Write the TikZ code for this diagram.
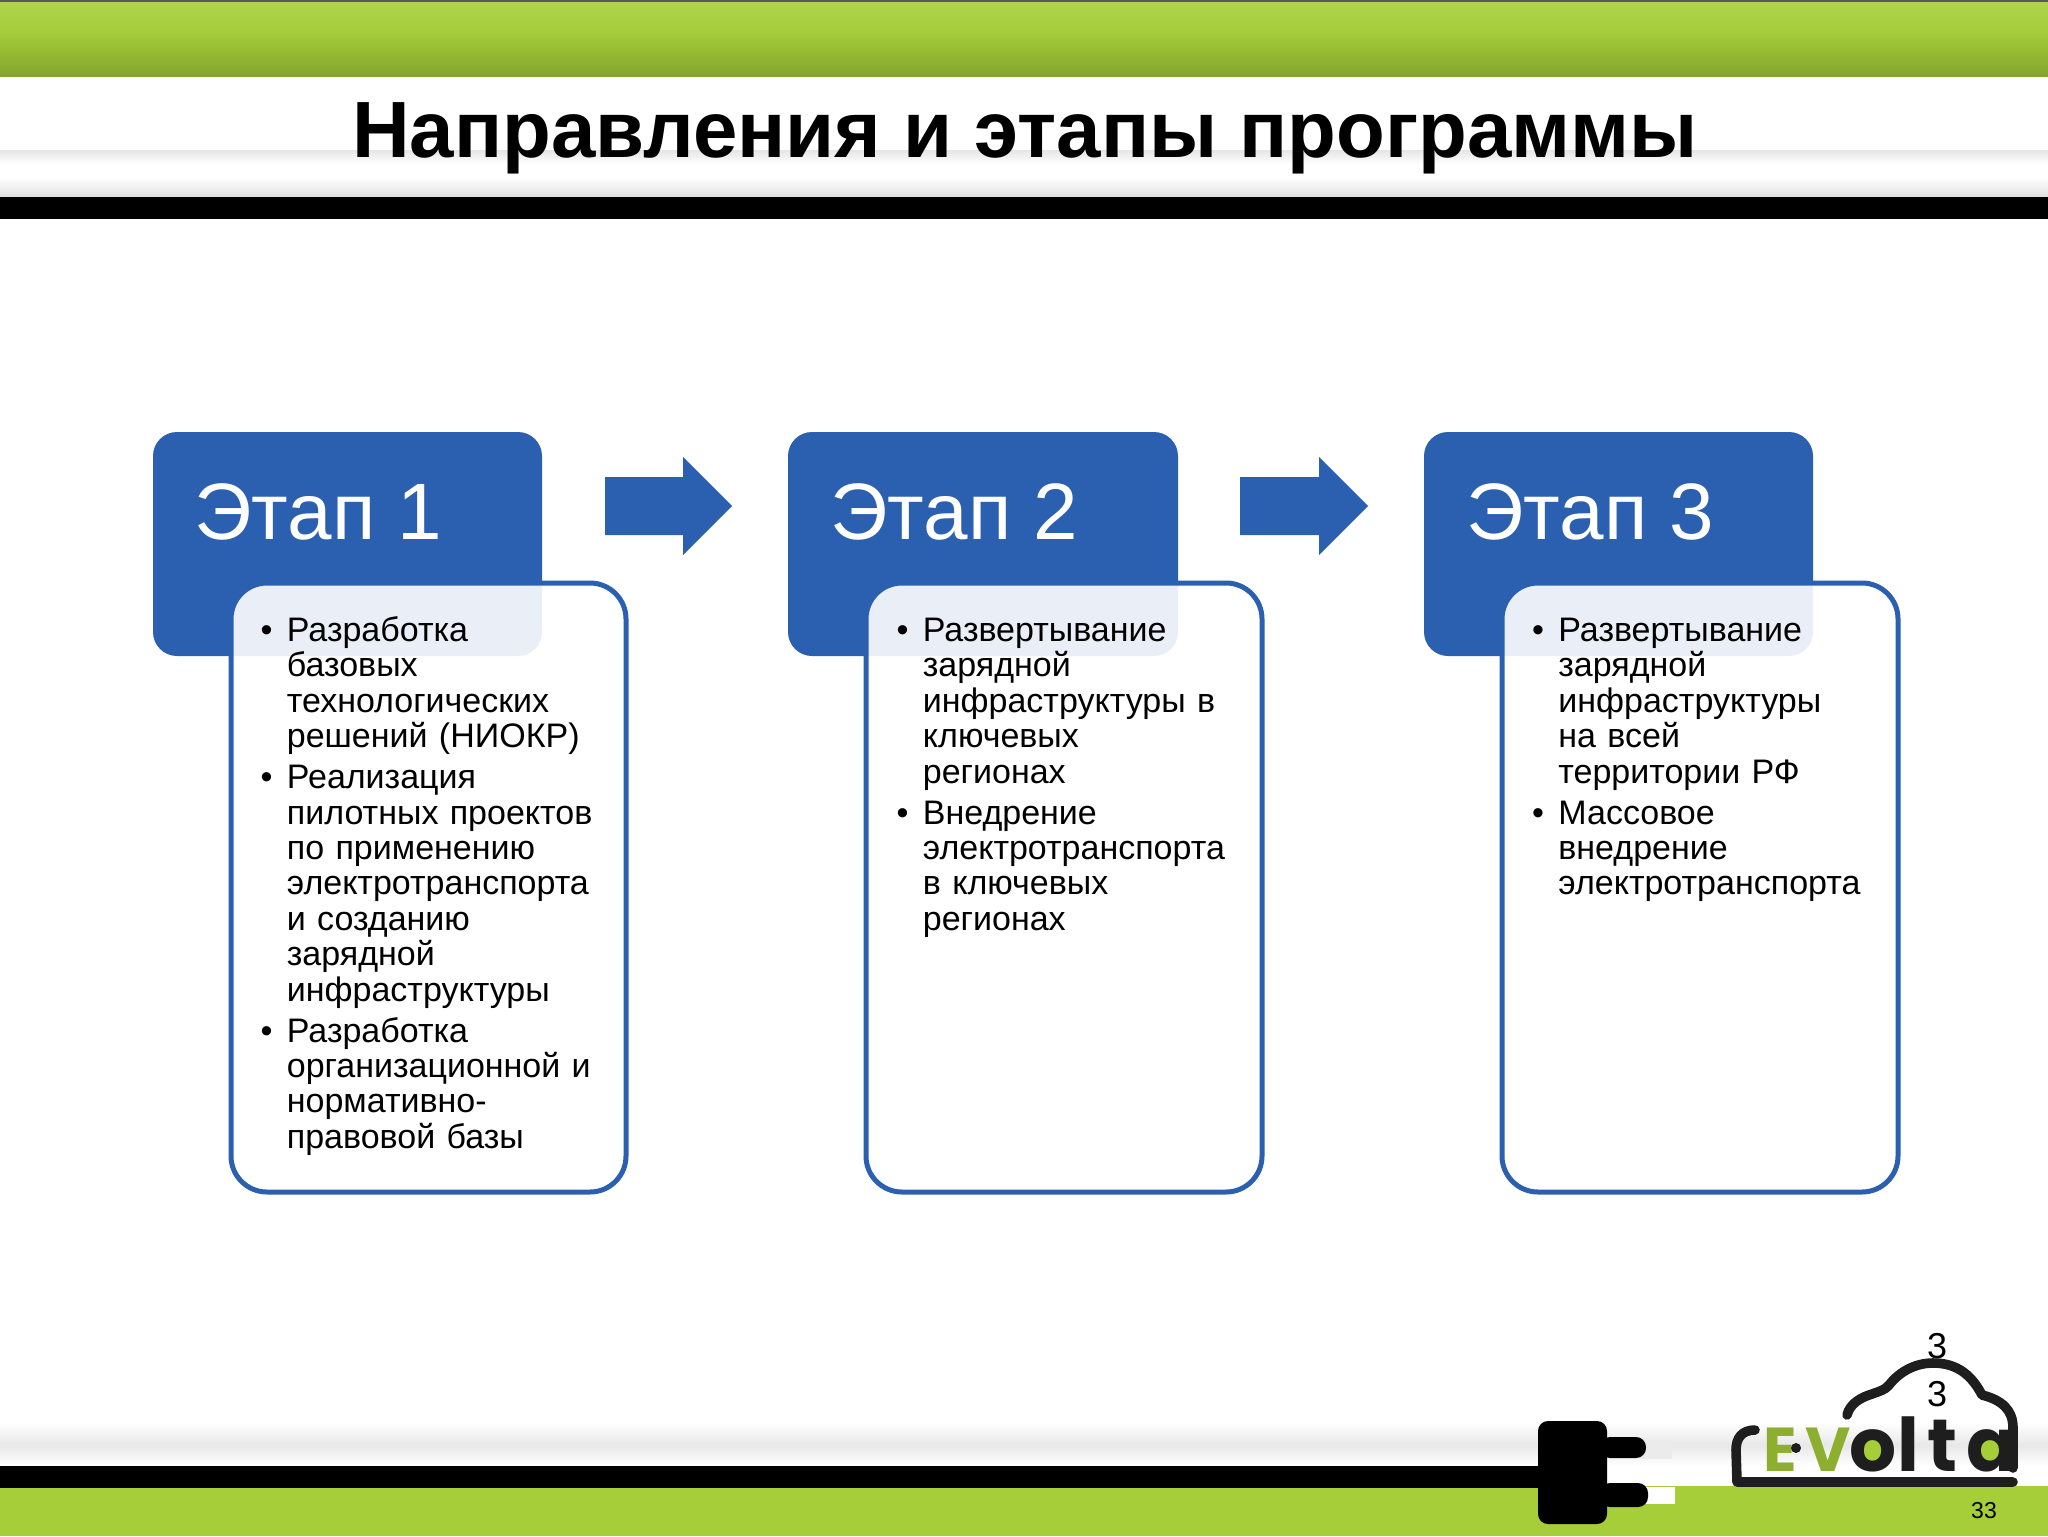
\documentclass[tikz,border=0pt]{standalone}
\usepackage{fontspec}
\setmainfont{Liberation Sans}
\newfontfamily\logofont{Poppins}
\definecolor{stageblue}{HTML}{2B60B1}
\definecolor{barg}{HTML}{A6CE39}
\definecolor{bargd}{HTML}{83A42E}
\definecolor{logoblk}{HTML}{1E1E1E}
\tikzset{
  x=0.5pt,y=-0.5pt,
  stagebox/.style={fill=stageblue,rounded corners=12pt,draw=none},
  detailbox/.style={draw=stageblue,line width=2.5pt,fill=white,fill opacity=.9,draw opacity=1,rounded corners=18pt},
  stagelabel/.style={anchor=base west,text=white,inner sep=0pt,font=\fontsize{40}{40}\selectfont},
  bodytext/.style={anchor=north west,inner sep=0pt,text width=240pt,align=left,font=\fontsize{17}{17.7}\selectfont},
  flowarrow/.style={fill=stageblue,draw=none},
  logostroke/.style={draw=logoblk,line width=4.8pt,line cap=round,line join=round},
  logogreen/.style={inner sep=0pt,text=barg!85!black,font=\logofont\bfseries\fontsize{31}{31}\selectfont},
  logoblack/.style={inner sep=0pt,text=logoblk,font=\logofont\bfseries\fontsize{37}{37}\selectfont},
}
\newcommand{\bullitem}{\leavevmode\rule{0pt}{14pt}\llap{\char"2022\kern7.2pt}}
\begin{document}
\begin{tikzpicture}
\useasboundingbox (0,0) rectangle (2048,1536);
\fill[white] (0,0) rectangle (2048,1536);
% top band
\fill[gray!70!black] (0,0) rectangle (2048,3);
\shade[top color=barg!90!white,bottom color=barg] (0,3) rectangle (2048,30);
\shade[top color=barg,bottom color=bargd] (0,30) rectangle (2048,77);
\shade[top color=black!10,bottom color=white] (0,150) rectangle (2048,164);
\shade[top color=white,bottom color=black!12] (0,178) rectangle (2048,197);
\fill[black] (0,197) rectangle (2048,219);
% title
\node[anchor=base,inner sep=0pt,font=\fontsize{39.9}{40}\selectfont\bfseries] (title) at (1025,157) {Направления и этапы программы};
% bottom band
\shade[top color=white,bottom color=black!9] (0,1422) rectangle (2048,1445);
\shade[top color=black!9,bottom color=white] (0,1445) rectangle (2048,1466);
\fill[black] (0,1466) rectangle (1545,1488);
\fill[barg] (0,1488) rectangle (2048,1536);
\fill[barg] (1545,1486) rectangle (2048,1536);
\fill[white] (1545,1466) rectangle (2048,1486);
% plug
\fill[black!8] (1640,1440) rectangle (1672,1459);
\fill[white] (1640,1487) rectangle (1675,1504);
\fill[black,rounded corners=5pt] (1538,1421) rectangle (1607,1524);
\fill[black,rounded corners=5pt] (1600,1437) rectangle (1646,1458);
\fill[black,rounded corners=5pt] (1600,1483) rectangle (1648,1507);
% logo
\fill[barg] (1873,1450) circle (14);
\fill[barg] (1991,1449) circle (14);
\node[logogreen,anchor=base west] (logoe) at (1763,1471) {E};
\node[logogreen,anchor=base] (logov) at (1828,1471) {V};
\fill[logoblk] (1796,1448) circle (5);
\node[logoblack,anchor=base] (logoo) at (1873,1471) {o};
\node[logoblack,anchor=base] (logol) at (1908,1471) {l};
\node[logoblack,anchor=base] (logot) at (1942,1471) {t};
\node[logoblack,anchor=base east] (logoa) at (2017,1471) {a};
\draw[logostroke] (1755,1430) .. controls (1742,1430) and (1736,1438) .. (1736,1450) -- (1737,1482) -- (2013,1482);
\draw[logostroke] (1847,1415) .. controls (1850,1403) and (1862,1397) .. (1872,1394) .. controls (1880,1391) and (1885,1390) .. (1889,1385) .. controls (1900,1371) and (1916,1363) .. (1933,1363) .. controls (1958,1363) and (1972,1376) .. (1982,1395) .. controls (2002,1400) and (2013,1410) .. (2013,1428) -- (2013,1468);
% page numbers
\node[inner sep=0pt,font=\fontsize{18}{18}\selectfont] (pgone) at (1937,1346) {3};
\node[inner sep=0pt,font=\fontsize{18}{18}\selectfont] (pgtwo) at (1937,1394) {3};
\node[inner sep=0pt,font=\fontsize{11.5}{11.5}\selectfont] (pgnum) at (1984,1511) {33};
% stages
\fill[stagebox] (153,432) rectangle (542,656);
\fill[stagebox] (788,432) rectangle (1178,656);
\fill[stagebox] (1424,432) rectangle (1813,656);
\path[detailbox] (231,583) rectangle (626,1192);
\path[detailbox] (866,583) rectangle (1262,1192);
\path[detailbox] (1502,583) rectangle (1898,1192);
\node[stagelabel] (s1) at (194,539.5) {Этап 1};
\node[stagelabel] (s2) at (830,539.5) {Этап 2};
\node[stagelabel] (s3) at (1466,539.5) {Этап 3};
\fill[flowarrow] (605,477) -- (683,477) -- (683,457) -- (732,506) -- (683,555) -- (683,535) -- (605,535) -- cycle;
\fill[flowarrow] (1240,477) -- (1319,477) -- (1319,457) -- (1368,506) -- (1319,555) -- (1319,535) -- (1240,535) -- cycle;
\node[bodytext] (b1) at (286.5,613) {\bullitem Разработка\\ базовых\\ технологических\\ решений (НИОКР)\\[2.8pt]
\bullitem Реализация\\ пилотных проектов\\ по применению\\ электротранспорта\\ и созданию\\ зарядной\\ инфраструктуры\\[2.8pt]
\bullitem Разработка\\ организационной и\\ нормативно-\\ правовой базы};
\node[bodytext] (b2) at (922.5,613) {\bullitem Развертывание\\ зарядной\\ инфраструктуры в\\ ключевых\\ регионах\\[2.8pt]
\bullitem Внедрение\\ электротранспорта\\ в ключевых\\ регионах};
\node[bodytext] (b3) at (1558,613) {\bullitem Развертывание\\ зарядной\\ инфраструктуры\\ на всей\\ территории РФ\\[2.8pt]
\bullitem Массовое\\ внедрение\\ электротранспорта};
\end{tikzpicture}
\end{document}
